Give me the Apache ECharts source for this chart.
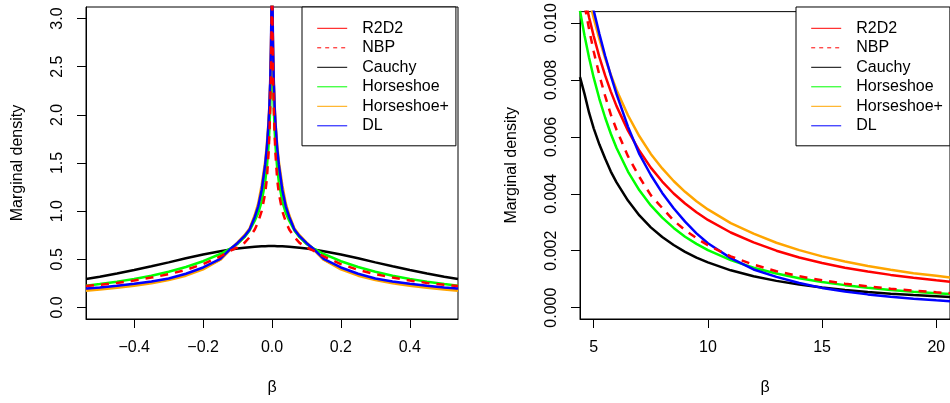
<!DOCTYPE html>
<html>
<head>
<meta charset="utf-8">
<script src="https://cdn.jsdelivr.net/npm/echarts@6/dist/echarts.min.js"></script>
<style>
html,body{margin:0;padding:0;background:#fff;}
#chart{width:950px;height:403px;}
</style>
</head>
<body>
<div id="chart"></div>
<script>
// ---------- Data ----------
const seriesNames = ['R2D2', 'NBP', 'Cauchy', 'Horseshoe', 'Horseshoe+', 'DL'];

// Left panel: beta near zero
const betaLeft = [-0.54,-0.5,-0.45,-0.4,-0.35,-0.3,-0.25,-0.2,-0.15,-0.12,-0.1,-0.08,-0.065,-0.05,-0.04,-0.03,-0.02,-0.015,-0.01,-0.0075,-0.005,-0.003,-0.002,-0.001,-0.0005,0,0.0005,0.001,0.002,0.003,0.005,0.0075,0.01,0.015,0.02,0.03,0.04,0.05,0.065,0.08,0.1,0.12,0.15,0.2,0.25,0.3,0.35,0.4,0.45,0.5,0.54];
const r2d2Left = [0.186,0.196,0.215,0.235,0.26,0.292,0.34,0.405,0.5,0.605,0.665,0.735,0.81,0.94,1.05,1.21,1.46,1.63,1.88,2.06,2.33,2.66,2.92,3.35,3.8,5,3.8,3.35,2.92,2.66,2.33,2.06,1.88,1.63,1.46,1.21,1.05,0.94,0.81,0.735,0.665,0.605,0.5,0.405,0.34,0.292,0.26,0.235,0.215,0.196,0.186];
const nbpLeft = [0.222,0.235,0.255,0.28,0.31,0.345,0.39,0.45,0.53,0.59,0.625,0.67,0.73,0.81,0.89,1.0,1.18,1.33,1.6,1.8,2.1,2.45,2.7,3.1,3.5,5,3.5,3.1,2.7,2.45,2.1,1.8,1.6,1.33,1.18,1.0,0.89,0.81,0.73,0.67,0.625,0.59,0.53,0.45,0.39,0.345,0.31,0.28,0.255,0.235,0.222];
const cauchyLeft = [0.296,0.318,0.352,0.388,0.427,0.468,0.51,0.549,0.584,0.602,0.612,0.621,0.626,0.631,0.633,0.635,0.636,0.636,0.637,0.637,0.637,0.637,0.637,0.637,0.637,0.637,0.637,0.637,0.637,0.637,0.637,0.637,0.637,0.636,0.636,0.635,0.633,0.631,0.626,0.621,0.612,0.602,0.584,0.549,0.51,0.468,0.427,0.388,0.352,0.318,0.296];
const horseshoeLeft = [0.226,0.244,0.268,0.295,0.33,0.37,0.42,0.48,0.555,0.615,0.66,0.73,0.8,0.9,0.98,1.1,1.3,1.45,1.68,1.85,2.1,2.4,2.6,2.95,3.3,5,3.3,2.95,2.6,2.4,2.1,1.85,1.68,1.45,1.3,1.1,0.98,0.9,0.8,0.73,0.66,0.615,0.555,0.48,0.42,0.37,0.33,0.295,0.268,0.244,0.226];
const hsPlusLeft = [0.174,0.186,0.205,0.225,0.25,0.285,0.33,0.395,0.495,0.605,0.675,0.75,0.82,0.96,1.08,1.27,1.51,1.69,1.93,2.1,2.34,2.65,2.89,3.3,3.7,5,3.7,3.3,2.89,2.65,2.34,2.1,1.93,1.69,1.51,1.27,1.08,0.96,0.82,0.75,0.675,0.605,0.495,0.395,0.33,0.285,0.25,0.225,0.205,0.186,0.174];
const dlLeft = [0.196,0.207,0.225,0.245,0.27,0.3,0.35,0.415,0.505,0.61,0.67,0.74,0.81,0.94,1.05,1.22,1.48,1.66,1.92,2.1,2.38,2.72,3.0,3.45,3.9,5,3.9,3.45,3.0,2.72,2.38,2.1,1.92,1.66,1.48,1.22,1.05,0.94,0.81,0.74,0.67,0.61,0.505,0.415,0.35,0.3,0.27,0.245,0.225,0.207,0.196];

// Right panel: tails
const betaRight = [4.4,4.6,4.8,5,5.25,5.5,5.75,6,6.5,7,7.5,8,8.5,9,9.5,10,11,12,13,14,15,16,17,18,19,20,20.6];
const r2d2Right = [0.01174,0.01092,0.01019,0.00954,0.0088,0.00816,0.00759,0.00708,0.00622,0.00551,0.00492,0.00443,0.00401,0.00366,0.00335,0.00308,0.00264,0.00229,0.002,0.00176,0.00157,0.0014,0.00127,0.00115,0.00105,0.00096,0.00091];
const nbpRight = [0.01162,0.01063,0.00977,0.009,0.00816,0.00744,0.00678,0.00625,0.00532,0.00459,0.00395,0.0035,0.00306,0.00272,0.00244,0.00219,0.0018,0.00151,0.00128,0.0011,0.00096,0.00084,0.000745,0.000665,0.000596,0.000538,0.000507];
const cauchyRight = [0.0081,0.0075,0.00684,0.0063,0.00573,0.00524,0.00478,0.0044,0.00376,0.00324,0.00282,0.00248,0.0022,0.00196,0.00176,0.00159,0.00131,0.0011,0.00094,0.00081,0.00071,0.00062,0.00055,0.00049,0.00044,0.0004,0.00037];
const horseshoeRight = [0.01043,0.00955,0.00877,0.00808,0.00733,0.00668,0.00611,0.00561,0.00478,0.00412,0.00359,0.00316,0.0028,0.00249,0.00224,0.00202,0.00167,0.0014,0.0012,0.00103,0.0009,0.00079,0.0007,0.00062,0.00056,0.000505,0.000476];
const hsPlusRight = [0.0124,0.01159,0.01084,0.01017,0.00943,0.00877,0.00818,0.00765,0.00676,0.00602,0.0054,0.00489,0.00445,0.00407,0.00374,0.00345,0.00297,0.0026,0.00228,0.00202,0.0018,0.00162,0.00146,0.00133,0.00121,0.00112,0.00106];
const dlRight = [0.01273,0.01191,0.01115,0.01044,0.00961,0.00885,0.00815,0.0075,0.00636,0.00539,0.00466,0.00403,0.00349,0.00302,0.00261,0.00226,0.00174,0.00134,0.00108,0.000864,0.000693,0.000567,0.000465,0.00038,0.000312,0.000255,0.000226];

// Tick labels
const xTicksLeft = [-0.4, -0.2, 0, 0.2, 0.4];
const yTicksLeft = [0, 0.5, 1, 1.5, 2, 2.5, 3];
const xTicksRight = [5, 10, 15, 20];
const yTicksRight = [0, 0.002, 0.004, 0.006, 0.008, 0.010];

// ---------- Styling ----------
const FONT = "'Liberation Sans', Arial, Helvetica, sans-serif";
const colors = {
  'R2D2': '#FF0000', 'NBP': '#FF0000', 'Cauchy': '#000000',
  'Horseshoe': '#00FF00', 'Horseshoe+': '#FFA500', 'DL': '#0000FF'
};
const dashed = {'NBP': [8, 7]};
const drawOrder = ['R2D2', 'Cauchy', 'Horseshoe', 'Horseshoe+', 'DL', 'NBP'];

const leftData = {
  'R2D2': r2d2Left, 'NBP': nbpLeft, 'Cauchy': cauchyLeft,
  'Horseshoe': horseshoeLeft, 'Horseshoe+': hsPlusLeft, 'DL': dlLeft
};
const rightData = {
  'R2D2': r2d2Right, 'NBP': nbpRight, 'Cauchy': cauchyRight,
  'Horseshoe': horseshoeRight, 'Horseshoe+': hsPlusRight, 'DL': dlRight
};

function pairs(xs, ys) { return xs.map((x, i) => [x, ys[i]]); }
function minusFmt(s) { return s.replace('-', '\u2212'); }

function xAxisCfg(gridIndex, min, max, ticks, fmt) {
  return {
    type: 'value', gridIndex, min, max,
    name: '\u03B2', nameLocation: 'middle', nameGap: 61,
    nameTextStyle: {fontFamily: FONT, fontSize: 16, color: '#000'},
    splitLine: {show: false},
    axisLine: {show: true, onZero: false, lineStyle: {color: '#000', width: 1}},
    axisTick: {show: true, length: 9, lineStyle: {color: '#000', width: 1}, customValues: ticks},
    axisLabel: {show: true, margin: 21, fontFamily: FONT, fontSize: 16, color: '#000',
      customValues: ticks, formatter: fmt}
  };
}
function yAxisCfg(gridIndex, min, max, ticks, fmt) {
  return {
    type: 'value', gridIndex, min, max,
    name: 'Marginal density', nameLocation: 'middle', nameGap: 60,
    nameTextStyle: {fontFamily: FONT, fontSize: 16, color: '#000'},
    splitLine: {show: false},
    axisLine: {show: true, onZero: false, lineStyle: {color: '#000', width: 1}},
    axisTick: {show: true, length: 9, lineStyle: {color: '#000', width: 1}, customValues: ticks},
    axisLabel: {show: true, rotate: 90, margin: 20, fontFamily: FONT, fontSize: 16, color: '#000',
      customValues: ticks, formatter: fmt}
  };
}

const series = [];
drawOrder.forEach(name => {
  [0, 1].forEach(g => {
    series.push({
      name, type: 'line',
      xAxisIndex: g, yAxisIndex: g,
      data: g === 0 ? pairs(betaLeft, leftData[name]) : pairs(betaRight, rightData[name]),
      symbol: 'none', showSymbol: false, clip: true,
      smooth: false,
      lineStyle: {color: colors[name], width: 2.5, type: dashed[name] || 'solid'},
      itemStyle: {color: colors[name]},
      emphasis: {disabled: true},
      silent: true,
      animation: false
    });
  });
});

function legendCfg(left) {
  return {
    data: seriesNames.map(n => n === 'NBP'
      ? {name: n, lineStyle: {type: [4, 4], width: 1}}
      : {name: n}),
    orient: 'vertical', left, top: 7,
    itemWidth: 30, itemHeight: 14, itemGap: 1.5,
    padding: [12.3, 7, 11, 14.7],
    borderColor: '#000', borderWidth: 1, borderRadius: 0,
    backgroundColor: '#fff',
    selectedMode: false,
    itemStyle: {opacity: 0, borderWidth: 0},
    lineStyle: {width: 1},
    textStyle: {fontFamily: FONT, fontSize: 16, lineHeight: 18, color: '#000', padding: [0, 0, 0, 10]}
  };
}

const option = {
  animation: false,
  backgroundColor: '#fff',
  grid: [
    {left: 86, top: 7, width: 372, height: 312, show: true, borderColor: '#000', borderWidth: 1, backgroundColor: 'transparent'},
    {left: 580, top: 7, width: 372, height: 312, show: true, borderColor: '#000', borderWidth: 1, backgroundColor: 'transparent'}
  ],
  xAxis: [
    xAxisCfg(0, -0.54, 0.54, xTicksLeft, v => minusFmt(Number(v).toFixed(1))),
    xAxisCfg(1, 4.4, 20.6, xTicksRight, v => String(Math.round(v)))
  ],
  yAxis: [
    yAxisCfg(0, -0.12, 3.12, yTicksLeft, v => Number(v).toFixed(1)),
    yAxisCfg(1, -0.0004, 0.0104, yTicksRight, v => Number(v).toFixed(3))
  ],
  legend: [legendCfg(302), legendCfg(796)],
  series
};

const chart = echarts.init(document.getElementById('chart'), null, {renderer: 'canvas'});
chart.setOption(option);
</script>
</body>
</html>
